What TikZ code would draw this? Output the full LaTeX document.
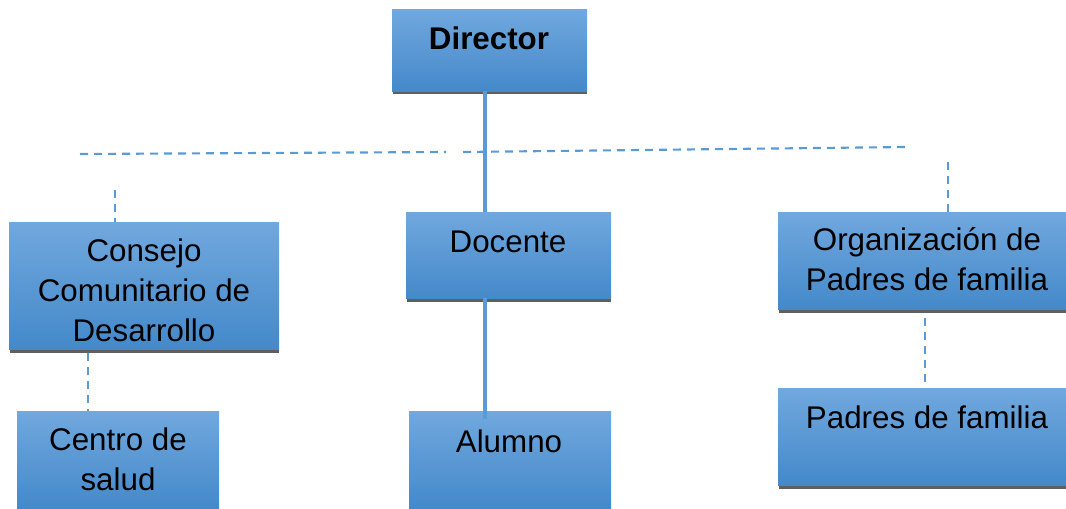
\documentclass[tikz,border=0pt]{standalone}
\usepackage{fontspec}
\setmainfont{Liberation Sans}
\usetikzlibrary{fit,calc}
\definecolor{boxtop}{RGB}{113,168,222}
\definecolor{boxbot}{RGB}{68,137,202}
\definecolor{shadowc}{RGB}{95,95,95}
\definecolor{linec}{RGB}{91,155,213}
\tikzset{
  orgbox/.style={draw=none, top color=boxtop, bottom color=boxbot, inner sep=0pt, outer sep=0pt},
  boxshadow/.style={fill=shadowc},
  orgtext/.style={anchor=base, align=center, inner sep=0pt, font=\fontsize{23.5}{30}\selectfont},
  solidline/.style={draw=linec, line width=2.4pt},
  dashline/.style={draw=linec, line width=1.6pt, dash pattern=on 6pt off 4.5pt}
}
\begin{document}
\begin{tikzpicture}[x=0.75pt, y=-0.75pt]
\useasboundingbox (0,0) rectangle (1066,508);
% shadows
\fill[boxshadow] (393,90) rectangle (587,94);
\fill[boxshadow] (407,297) rectangle (611,302);
\fill[boxshadow] (10,348) rectangle (279,353);
\fill[boxshadow] (779,308) rectangle (1066,313);
\fill[boxshadow] (779,484) rectangle (1066,489);
% boxes
\node[orgbox, fit={(392,9) (587,91)}] (dir) {};
\node[orgbox, fit={(406,212) (611,298)}] (doc) {};
\node[orgbox, fit={(409,411) (611,508)}] (alu) {};
\node[orgbox, fit={(9,222) (279,349)}] (con) {};
\node[orgbox, fit={(17,411) (219,508)}] (cen) {};
\node[orgbox, fit={(778,212) (1066,309)}] (org) {};
\node[orgbox, fit={(778,388) (1066,485)}] (pad) {};
% texts (anchor = baseline of last line)
\node[orgtext, font=\fontsize{23.5}{30}\selectfont\bfseries] (tdir) at (489,49) {Director};
\node[orgtext] (tdoc) at (508,252) {Docente};
\node[orgtext] (talu) at (509,452) {Alumno};
\begin{scope}
\clip (9,222) rectangle (279,341.5);
\node[orgtext] (tcon) at (144,341) {Consejo\\Comunitario de\\Desarrollo};
\end{scope}
\node[orgtext] (tcen) at (118,490) {Centro de\\salud};
\node[orgtext] (torg) at (927,290) {Organización de\\Padres de familia};
\node[orgtext] (tpad) at (927,428) {Padres de familia};
% connector coordinates
\coordinate (lx) at (485,0);
\coordinate (h1a) at (80,154);
\coordinate (h1b) at (446,152);
\coordinate (h2a) at (463,152);
\coordinate (h2b) at (906,147);
\coordinate (ct) at (115,190);
\coordinate (ot) at (948,162);
\coordinate (cx) at (88,0);
\coordinate (pa) at (925,318);
\coordinate (pb) at (925,382);
% solid connectors
\draw[solidline] (dir.south -| lx) -- (doc.north -| lx);
\draw[solidline] (doc.south -| lx) -- ($(alu.north -| lx)+(0,8)$);
% dashed connectors
\draw[dashline] (h1a) -- (h1b);
\draw[dashline] (h2a) -- (h2b);
\draw[dashline] (ct) -- (ct |- con.north);
\draw[dashline] (ot) -- (ot |- org.north);
\draw[dashline] (con.south -| cx) ++(0,4) -- (cen.north -| cx);
\draw[dashline] (pa) -- (pb);
\end{tikzpicture}
\end{document}
